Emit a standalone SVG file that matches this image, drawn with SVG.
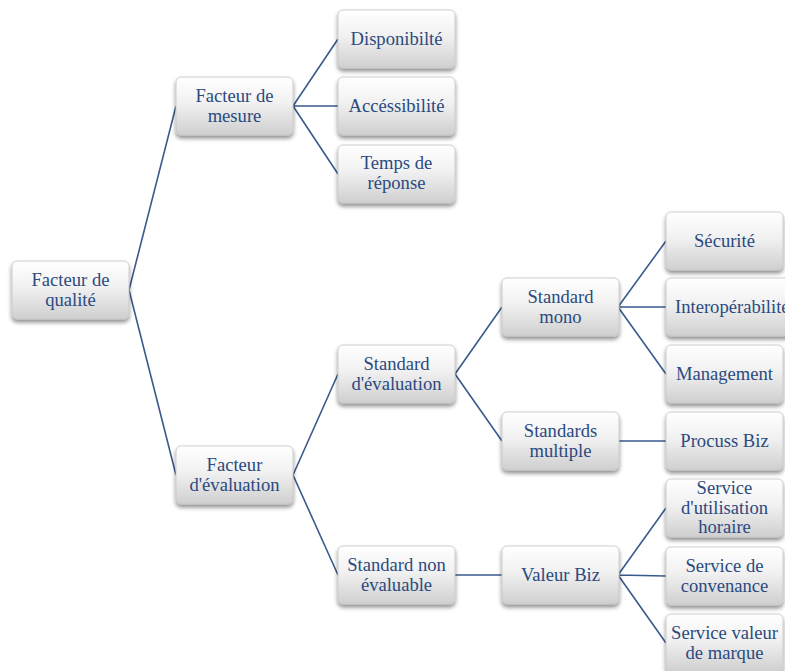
<svg xmlns="http://www.w3.org/2000/svg" width="785" height="671" viewBox="0 0 785 671">
  <defs>
    <linearGradient id="boxFill" x1="0" y1="0" x2="0" y2="1">
      <stop offset="0" stop-color="#ffffff"/>
      <stop offset="0.45" stop-color="#f1f1f1"/>
      <stop offset="1" stop-color="#cfcfcf"/>
    </linearGradient>
    <filter id="shadow" x="-20%" y="-20%" width="140%" height="150%">
      <feGaussianBlur in="SourceAlpha" stdDeviation="2.2"/>
      <feOffset dx="0" dy="3" result="blur"/>
      <feComponentTransfer><feFuncA type="linear" slope="0.45"/></feComponentTransfer>
      <feMerge><feMergeNode/><feMergeNode in="SourceGraphic"/></feMerge>
    </filter>
  </defs>
  <style>
    .box { fill: url(#boxFill); stroke: #c4c4c4; stroke-width: 0.8; filter: url(#shadow); }
    .lbl { font-family: "Liberation Serif", "Times New Roman", serif; font-size: 18.6px; fill: #2b4a80; text-anchor: middle; }
    .edge { stroke: #3b5a8c; stroke-width: 1.6; fill: none; }
  </style>
  <rect width="785" height="671" fill="#ffffff"/>

  <!-- connectors: parent right-middle to child left-middle -->
  <g id="connectors" class="edge">
    <path d="M129 290 L176 106 M129 290 L176 475"/>
    <path d="M293 106 L338 39 M293 106 L338 106 M293 106 L338 174"/>
    <path d="M293 475 L338 374 M293 475 L338 575"/>
    <path d="M455 374 L502 307 M455 374 L502 441"/>
    <path d="M455 575 L502 575"/>
    <path d="M618 307 L666 241 M618 307 L666 307 M618 307 L666 374"/>
    <path d="M618 441 L666 441"/>
    <path d="M618 575 L666 508 M618 575 L666 576 M618 575 L666 643"/>
  </g>

  <g id="n-facteur-qualite">
    <rect class="box" x="12" y="261" width="117" height="58" rx="5"/>
    <text class="lbl" x="70.5" y="286">Facteur de</text>
    <text class="lbl" x="70.5" y="306">qualité</text>
  </g>
  <g id="n-facteur-mesure">
    <rect class="box" x="176" y="77" width="117" height="58" rx="5"/>
    <text class="lbl" x="234.5" y="102">Facteur de</text>
    <text class="lbl" x="234.5" y="122">mesure</text>
  </g>
  <g id="n-facteur-evaluation">
    <rect class="box" x="176" y="446" width="117" height="58" rx="5"/>
    <text class="lbl" x="234.5" y="471">Facteur</text>
    <text class="lbl" x="234.5" y="491">d'évaluation</text>
  </g>
  <g id="n-disponibilite">
    <rect class="box" x="338" y="10" width="117" height="58" rx="5"/>
    <text class="lbl" x="396.5" y="45">Disponibilté</text>
  </g>
  <g id="n-accessibilite">
    <rect class="box" x="338" y="77" width="117" height="58" rx="5"/>
    <text class="lbl" x="396.5" y="112">Accéssibilité</text>
  </g>
  <g id="n-temps-reponse">
    <rect class="box" x="338" y="145" width="117" height="58" rx="5"/>
    <text class="lbl" x="396.5" y="169">Temps de</text>
    <text class="lbl" x="396.5" y="189">réponse</text>
  </g>
  <g id="n-standard-evaluation">
    <rect class="box" x="338" y="345" width="117" height="58" rx="5"/>
    <text class="lbl" x="396.5" y="370">Standard</text>
    <text class="lbl" x="396.5" y="390">d'évaluation</text>
  </g>
  <g id="n-standard-non-evaluable">
    <rect class="box" x="338" y="546" width="117" height="58" rx="5"/>
    <text class="lbl" x="396.5" y="571">Standard non</text>
    <text class="lbl" x="396.5" y="591">évaluable</text>
  </g>
  <g id="n-standard-mono">
    <rect class="box" x="502" y="278" width="117" height="58" rx="5"/>
    <text class="lbl" x="560.5" y="303">Standard</text>
    <text class="lbl" x="560.5" y="323">mono</text>
  </g>
  <g id="n-standards-multiple">
    <rect class="box" x="502" y="412" width="117" height="58" rx="5"/>
    <text class="lbl" x="560.5" y="437">Standards</text>
    <text class="lbl" x="560.5" y="457">multiple</text>
  </g>
  <g id="n-valeur-biz">
    <rect class="box" x="502" y="546" width="117" height="58" rx="5"/>
    <text class="lbl" x="560.5" y="581">Valeur  Biz</text>
  </g>
  <g id="n-securite">
    <rect class="box" x="666" y="212" width="117" height="58" rx="5"/>
    <text class="lbl" x="724.5" y="247">Sécurité</text>
  </g>
  <g id="n-interoperabilite">
    <rect class="box" x="666" y="278" width="130" height="58" rx="5"/>
    <text class="lbl" x="675" y="313" style="text-anchor:start">Interopérabilité</text>
  </g>
  <g id="n-management">
    <rect class="box" x="666" y="345" width="117" height="58" rx="5"/>
    <text class="lbl" x="724.5" y="380">Management</text>
  </g>
  <g id="n-procuss-biz">
    <rect class="box" x="666" y="412" width="117" height="58" rx="5"/>
    <text class="lbl" x="724.5" y="447">Procuss Biz</text>
  </g>
  <g id="n-service-utilisation">
    <rect class="box" x="666" y="479" width="117" height="58" rx="5"/>
    <text class="lbl" x="724.5" y="494">Service</text>
    <text class="lbl" x="724.5" y="514">d'utilisation</text>
    <text class="lbl" x="724.5" y="533">horaire</text>
  </g>
  <g id="n-service-convenance">
    <rect class="box" x="666" y="547" width="117" height="58" rx="5"/>
    <text class="lbl" x="724.5" y="572">Service de</text>
    <text class="lbl" x="724.5" y="592">convenance</text>
  </g>
  <g id="n-service-marque">
    <rect class="box" x="666" y="614" width="117" height="58" rx="5"/>
    <text class="lbl" x="724.5" y="639">Service valeur</text>
    <text class="lbl" x="724.5" y="659">de marque</text>
  </g>
</svg>
